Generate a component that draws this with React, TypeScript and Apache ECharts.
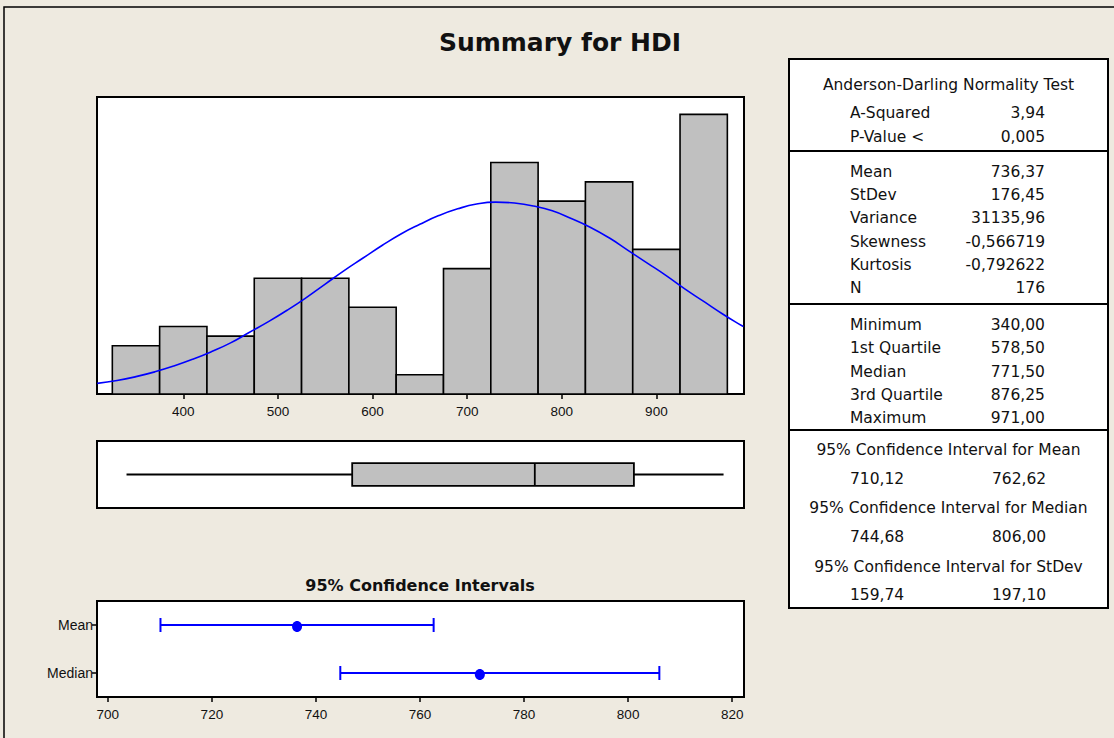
import React, { useEffect, useRef } from 'react';
import * as echarts from 'echarts';

// Histogram (bin centers, counts)
const binCenters = [350, 400, 450, 500, 550, 600, 650, 700, 750, 800, 850, 900, 950];
const binCounts = [5, 7, 6, 12, 12, 9, 2, 13, 24, 20, 22, 15, 29];
const binWidth = 50;
const histTicks = [400, 500, 600, 700, 800, 900];

// Fitted normal curve (x value, height in counts)
const curveX = [309, 330, 350, 370, 390, 410, 430, 450, 470, 490, 510, 530, 550, 570, 590, 610, 630, 650, 670, 690, 710, 730, 750, 770, 790, 810, 830, 850, 870, 890, 910, 930, 950, 970, 990, 992];
const curveY = [1.1, 1.4, 1.8, 2.3, 2.9, 3.6, 4.4, 5.3, 6.4, 7.5, 8.7, 10.0, 11.4, 12.8, 14.1, 15.4, 16.6, 17.6, 18.5, 19.2, 19.7, 19.9, 19.8, 19.5, 19.0, 18.2, 17.3, 16.2, 14.9, 13.6, 12.3, 10.9, 9.6, 8.3, 7.1, 7.0];

// Boxplot: min, Q1, median, Q3, max
const boxStats = [340, 578.5, 771.5, 876.25, 971];

// Confidence intervals
const ciNames = ['Mean', 'Median'];
const ciLow = [710.12, 744.68];
const ciCenter = [736.37, 771.5];
const ciHigh = [762.62, 806.0];
const ciTicks = [700, 720, 740, 760, 780, 800, 820];

// Table texts
const adTitle = 'Anderson-Darling Normality Test';
const adLabels = ['A-Squared', 'P-Value <'];
const adValues = ['3,94', '0,005'];
const momentLabels = ['Mean', 'StDev', 'Variance', 'Skewness', 'Kurtosis', 'N'];
const momentValues = ['736,37', '176,45', '31135,96', '-0,566719', '-0,792622', '176'];
const quantLabels = ['Minimum', '1st Quartile', 'Median', '3rd Quartile', 'Maximum'];
const quantValues = ['340,00', '578,50', '771,50', '876,25', '971,00'];
const ciTitles = ['95% Confidence Interval for Mean', '95% Confidence Interval for Median', '95% Confidence Interval for StDev'];
const ciLowText = ['710,12', '744,68', '159,74'];
const ciHighText = ['762,62', '806,00', '197,10'];

const TABLE_FONT = '15.5px "DejaVu Sans"';
const AXIS_FONT = 'Liberation Sans';

function txt(text: string, x: number, y: number, align: string = 'left', font: string = TABLE_FONT) {
  return {
    type: 'text',
    x,
    y,
    z: 10,
    style: {
      text,
      font,
      fill: '#111',
      align,
      verticalAlign: 'middle',
      textAlign: align,
      textVerticalAlign: 'middle',
    },
  };
}

export default function App() {
  const ref = useRef<HTMLDivElement>(null);
  useEffect(() => {
    if (!ref.current) return;
    const chart = echarts.init(ref.current, undefined, { renderer: 'svg' });

    const tL = 789, tR = 1108, tT = 59, tB = 608;
    const labelX = 850, valueR = 1045, hiX = 992;
    const graphics: any[] = [];
    graphics.push({ type: 'rect', z: 0, shape: { x: 4, y: 7, width: 1300, height: 900 }, style: { fill: 'none', stroke: '#000', lineWidth: 1.5 } });
    graphics.push({ type: 'rect', z: 1, shape: { x: tL, y: tT, width: tR - tL, height: tB - tT }, style: { fill: '#fff', stroke: '#000', lineWidth: 2 } });
    [151, 304, 430].forEach((y) => graphics.push({ type: 'line', z: 2, shape: { x1: tL, y1: y, x2: tR, y2: y }, style: { stroke: '#000', lineWidth: 2 } }));
    graphics.push(txt('Summary for HDI', 560, 42, 'center', 'bold 25px "DejaVu Sans"'));
    graphics.push(txt('95% Confidence Intervals', 420, 585, 'center', 'bold 16px "DejaVu Sans"'));

    graphics.push(txt(adTitle, (tL + tR) / 2, 85, 'center'));
    adLabels.forEach((l, i) => {
      graphics.push(txt(l, labelX, 113 + i * 24.4));
      graphics.push(txt(adValues[i], valueR, 113 + i * 24.4, 'right'));
    });
    momentLabels.forEach((l, i) => {
      graphics.push(txt(l, labelX, 172 + i * 23.2));
      graphics.push(txt(momentValues[i], valueR, 172 + i * 23.2, 'right'));
    });
    quantLabels.forEach((l, i) => {
      graphics.push(txt(l, labelX, 325 + i * 23.3));
      graphics.push(txt(quantValues[i], valueR, 325 + i * 23.3, 'right'));
    });
    ciTitles.forEach((t, i) => {
      const y0 = 450 + i * 58.3;
      graphics.push(txt(t, (tL + tR) / 2, y0, 'center'));
      graphics.push(txt(ciLowText[i], labelX, y0 + 28.5));
      graphics.push(txt(ciHighText[i], hiX, y0 + 28.5));
    });

    const gridBase = { show: true, backgroundColor: '#fff', borderColor: '#000', borderWidth: 2, containLabel: false };
    const axisLbl = { fontFamily: AXIS_FONT, fontSize: 13.5, color: '#111' };

    const option: any = {
      animation: false,
      backgroundColor: '#EEEAE0',
      grid: [
        { ...gridBase, left: 97, top: 97, width: 647, height: 297 },
        { ...gridBase, left: 97, top: 441, width: 647, height: 67 },
        { ...gridBase, left: 97, top: 601, width: 647, height: 96 },
      ],
      xAxis: [
        {
          gridIndex: 0, type: 'value', min: 308.8, max: 992.6,
          axisLine: { show: true, lineStyle: { color: '#000', width: 2 } },
          axisTick: { show: true, length: 5, lineStyle: { color: '#000', width: 1.5 }, customValues: histTicks },
          axisLabel: { ...axisLbl, margin: 10, customValues: histTicks },
          splitLine: { show: false },
        },
        {
          gridIndex: 1, type: 'value', min: 308.8, max: 992.6, show: false,
        },
        {
          gridIndex: 2, type: 'value', min: 697.92, max: 822.27,
          axisLine: { show: true, lineStyle: { color: '#000', width: 2 } },
          axisTick: { show: true, length: 5, lineStyle: { color: '#000', width: 1.5 }, customValues: ciTicks },
          axisLabel: { ...axisLbl, margin: 10, customValues: ciTicks },
          splitLine: { show: false },
        },
      ],
      yAxis: [
        { gridIndex: 0, type: 'value', min: 0, max: 30.8, show: false },
        { gridIndex: 1, type: 'value', min: 0, max: 1, show: false },
        {
          gridIndex: 2, type: 'category', data: ciNames, inverse: true,
          axisLine: { show: true, lineStyle: { color: '#000', width: 2 } },
          axisTick: { show: true, length: 5, alignWithLabel: true, lineStyle: { color: '#000', width: 1.5 } },
          axisLabel: { ...axisLbl, fontSize: 14, margin: 4 },
          splitLine: { show: false },
        },
      ],
      graphic: { elements: graphics },
      series: [
        {
          type: 'custom', xAxisIndex: 0, yAxisIndex: 0, z: 2,
          data: binCenters.map((c, i) => [c, binCounts[i]]),
          encode: { x: 0, y: 1 },
          renderItem: (_p: any, api: any) => {
            const c = api.value(0);
            const n = api.value(1);
            const p0 = api.coord([c - binWidth / 2, n]);
            const p1 = api.coord([c + binWidth / 2, 0]);
            return {
              type: 'rect',
              shape: { x: p0[0], y: p0[1], width: p1[0] - p0[0], height: p1[1] - p0[1] },
              style: { fill: '#C0C0C0', stroke: '#000', lineWidth: 1.6 },
            };
          },
        },
        {
          type: 'line', xAxisIndex: 0, yAxisIndex: 0, z: 4,
          data: curveX.map((x, i) => [x, curveY[i]]),
          showSymbol: false, symbol: 'none', smooth: true,
          lineStyle: { color: '#0000FF', width: 1.6 },
        },
        {
          type: 'custom', xAxisIndex: 1, yAxisIndex: 1, z: 2,
          data: [boxStats],
          encode: { x: [0, 1, 2, 3, 4] },
          renderItem: (_p: any, api: any) => {
            const mn = api.coord([api.value(0), 0.5]);
            const q1 = api.coord([api.value(1), 0.67]);
            const md = api.coord([api.value(2), 0.33]);
            const q3 = api.coord([api.value(3), 0.33]);
            const mx = api.coord([api.value(4), 0.5]);
            const line = { stroke: '#000', lineWidth: 1.8 };
            return {
              type: 'group',
              children: [
                { type: 'line', shape: { x1: mn[0], y1: mn[1], x2: q1[0], y2: mn[1] }, style: line },
                { type: 'line', shape: { x1: q3[0], y1: mx[1], x2: mx[0], y2: mx[1] }, style: line },
                { type: 'rect', shape: { x: q1[0], y: q1[1], width: q3[0] - q1[0], height: q3[1] - q1[1] }, style: { fill: '#C0C0C0', stroke: '#000', lineWidth: 1.8 } },
                { type: 'line', shape: { x1: md[0], y1: q1[1], x2: md[0], y2: md[1] }, style: line },
              ],
            };
          },
        },
        {
          type: 'custom', xAxisIndex: 2, yAxisIndex: 2, z: 3,
          data: ciNames.map((n, i) => [n, ciLow[i], ciCenter[i], ciHigh[i]]),
          encode: { y: 0, x: [1, 2, 3] },
          renderItem: (params: any, api: any) => {
            const idx = params.dataIndex;
            const lo = api.coord([api.value(1), idx]);
            const ce = api.coord([api.value(2), idx]);
            const hi = api.coord([api.value(3), idx]);
            const st = { stroke: '#0000FF', lineWidth: 2 };
            return {
              type: 'group',
              children: [
                { type: 'line', shape: { x1: lo[0], y1: lo[1], x2: hi[0], y2: hi[1] }, style: st },
                { type: 'line', shape: { x1: lo[0], y1: lo[1] - 7, x2: lo[0], y2: lo[1] + 7 }, style: st },
                { type: 'line', shape: { x1: hi[0], y1: hi[1] - 7, x2: hi[0], y2: hi[1] + 7 }, style: st },
                { type: 'ellipse', shape: { cx: ce[0], cy: ce[1] + 1.5, rx: 5, ry: 5.5 }, style: { fill: '#0000FF' } },
              ],
            };
          },
        },
      ],
    };
    chart.setOption(option);
    return () => chart.dispose();
  }, []);
  return <div ref={ref} style={{ position: 'fixed', left: 0, top: 0, width: 1114, height: 738 }} />;
}
